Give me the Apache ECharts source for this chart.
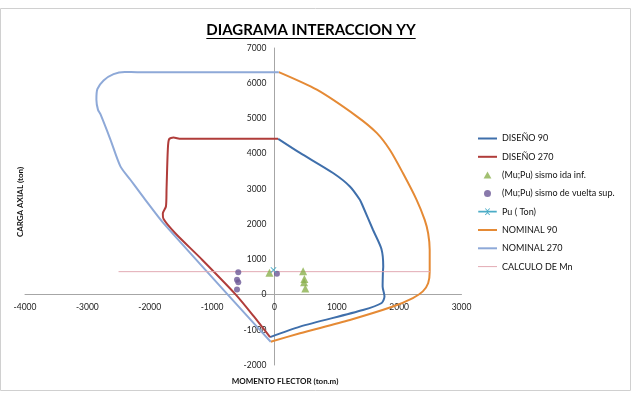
<!DOCTYPE html>
<html><head><meta charset="utf-8">
<script src="https://cdn.jsdelivr.net/npm/echarts@6/dist/echarts.min.js"></script>
<style>html,body{margin:0;padding:0;background:#fff}#c{width:636px;height:408px}</style>
</head><body><div id="c"></div>
<script>
// ---- data ----
const xTicks = [-4000,-3000,-2000,-1000,0,1000,2000,3000];
const yTicks = [-2000,-1000,0,1000,2000,3000,4000,5000,6000,7000];
const diseno90 = [[60,4420],[410,4020],[940,3450],[1210,3070],[1370,2690],[1420,2500],[1580,1840],[1715,1300],[1745,800],[1740,650],[1735,230],[1765,-50],[1720,-240],[1420,-440],[410,-910],[-70,-1210]];
const diseno270 = [[60,4420],[-1500,4420],[-1620,4460],[-1690,4410],[-1710,4100],[-1730,3000],[-1740,2500],[-1790,2300],[-1780,2150],[-1590,1740],[-1160,990],[-620,0],[-330,-620],[-70,-1210]];
const sismoIda = [[-80,620],[460,660],[480,440],[475,350],[495,170]];
const sismoVuelta = [[-580,630],[-600,420],[-580,350],[-600,140],[40,590]];
const puTon = [[-15,700]];
const nominal90 = [[70,6315],[680,5815],[1320,5060],[1640,4590],[1850,4110],[2060,3450],[2280,2690],[2410,2120],[2465,1740],[2490,1270],[2490,650],[2465,320],[2380,90],[2220,-100],[1900,-340],[1210,-720],[410,-1100],[-60,-1340]];
const nominal270 = [[70,6315],[-2200,6315],[-2400,6320],[-2580,6260],[-2740,6080],[-2840,5830],[-2855,5530],[-2830,5250],[-2790,5120],[-2630,4400],[-2470,3640],[-2310,3260],[-2070,2690],[-1780,2030],[-60,-1340]];
const calculoMn = [[-2500,650],[2500,650]];
const seriesNames = ['DISEÑO 90','DISEÑO 270','(Mu;Pu) sismo ida inf.','(Mu;Pu) sismo de vuelta sup.','Pu ( Ton)','NOMINAL 90','NOMINAL 270','CALCULO DE Mn'];
const titleText = 'DIAGRAMA INTERACCION YY';
const xTitle = 'MOMENTO FLECTOR (ton.m)';
const yTitle = 'CARGA AXIAL (ton)';

// ---- chart ----
const FONT = 'Lato';
const chart = echarts.init(document.getElementById('c'), null, {renderer:'canvas'});
const titleFont = 'bold 15px ' + FONT;
const ctx = document.createElement('canvas').getContext('2d');
ctx.font = titleFont;
const tw = ctx.measureText(titleText).width;
const tcx = 311, tcy = 30;

const G = {left:25, right:174.5, top:48, bottom:43};
const W = 636, H = 408;
const xMin = xTicks[0], xMax = xTicks[xTicks.length-1];
const yMin = yTicks[0], yMax = yTicks[yTicks.length-1];
const xStep = xTicks[1]-xTicks[0], yStep = yTicks[1]-yTicks[0];
// offsets that put each axis at the other's zero (Excel "axis crosses at 0")
const plotW = W - G.left - G.right, plotH = H - G.top - G.bottom;
const yAxisOffset = -plotW * (0 - xMin) / (xMax - xMin);
const xAxisOffset = -plotH * (0 - yMin) / (yMax - yMin);

const crossPath = 'path://M0,1L1,0L5,4L9,0L10,1L6,5L10,9L9,10L5,6L1,10L0,9L4,5Z';
const triPath = 'path://M5,0L10,9L0,9Z';
const lineIcon = 'path://M0,0L19,0L19,2L0,2Z';
const thinLineIcon = 'path://M0,0L19,0L19,1L0,1Z';
const puIcon = 'path://M0,2.6L19,2.6L19,4.4L0,4.4Z M6.9,0.5L7.5,-0.1L9.5,1.9L11.5,-0.1L12.1,0.5L10.1,2.5L10.1,4.5L12.1,6.5L11.5,7.1L9.5,5.1L7.5,7.1L6.9,6.5L8.9,4.5L8.9,2.5Z';

function lineSeries(name, data, color) {
  return {name, type:'line', data, symbol:'none', smooth:0.25, color,
    lineStyle:{width:2, color}, z:2};
}

chart.setOption({
  animation:false,
  textStyle:{fontFamily:FONT},
  grid:{left:G.left, right:G.right, top:G.top, bottom:G.bottom, containLabel:false, outerBoundsMode:'none'},
  xAxis:{type:'value', min:xMin, max:xMax, interval:xStep, position:'bottom', offset:xAxisOffset,
    axisLine:{onZero:false, lineStyle:{color:'#a6a6a6', width:1}},
    axisTick:{show:false}, splitLine:{show:false},
    axisLabel:{color:'#222', fontSize:8.5, margin:8, fontFamily:FONT, formatter:v=>String(v)}},
  yAxis:{type:'value', min:yMin, max:yMax, interval:yStep, position:'left', offset:yAxisOffset,
    axisLine:{onZero:false, lineStyle:{color:'#a6a6a6', width:1}},
    axisTick:{show:false}, splitLine:{show:false},
    axisLabel:{color:'#222', fontSize:8.5, margin:8, fontFamily:FONT, formatter:v=>String(v)}},
  legend:{orient:'vertical', left:478, top:134, padding:0, itemWidth:19, itemHeight:7, itemGap:9.3,
    symbolKeepAspect:true,
    textStyle:{fontSize:9, color:'#111', fontFamily:FONT},
    data:[
      {name:seriesNames[0], icon:lineIcon},
      {name:seriesNames[1], icon:lineIcon},
      {name:seriesNames[2], icon:triPath},
      {name:seriesNames[3], icon:'circle'},
      {name:seriesNames[4], icon:puIcon},
      {name:seriesNames[5], icon:lineIcon},
      {name:seriesNames[6], icon:lineIcon},
      {name:seriesNames[7], icon:thinLineIcon}
    ]},
  series:[
    lineSeries(seriesNames[0], diseno90, '#3f6fab'),
    lineSeries(seriesNames[1], diseno270, '#b03c3a'),
    {name:seriesNames[2], type:'scatter', data:sismoIda, symbol:'triangle', symbolSize:8, color:'#8bb04d', z:3},
    {name:seriesNames[3], type:'scatter', data:sismoVuelta, symbol:'circle', symbolSize:6, color:'#6b5796', z:3},
    {name:seriesNames[4], type:'line', data:puTon, symbol:crossPath, symbolSize:6, color:'#4bacc6',
      lineStyle:{width:2, color:'#4bacc6'}, itemStyle:{color:'#4bacc6'}, z:3},
    lineSeries(seriesNames[5], nominal90, '#e58a35'),
    lineSeries(seriesNames[6], nominal270, '#8ea9d8'),
    {name:seriesNames[7], type:'line', data:calculoMn, symbol:'none', color:'#e2aab3',
      lineStyle:{width:1, color:'#e2aab3'}, z:2}
  ],
  graphic:[
    {type:'rect', shape:{x:0.5, y:8.5, width:630, height:382}, style:{fill:null, stroke:'#d0d0d0', lineWidth:1}, silent:true, z:-1},
    {type:'text', x:tcx, y:tcy, style:{text:titleText, font:titleFont, fill:'#000', align:'center', verticalAlign:'middle'}},
    {type:'line', shape:{x1:tcx-tw/2, y1:tcy+8.5, x2:tcx+tw/2, y2:tcy+8.5}, style:{stroke:'#000', lineWidth:1.2}},
    {type:'text', x:285, y:381, style:{text:xTitle, font:'bold 8px '+FONT, fill:'#111', align:'center', verticalAlign:'middle'}},
    {type:'text', x:20, y:202, rotation:Math.PI/2, style:{text:yTitle, font:'bold 8px '+FONT, fill:'#111', align:'center', verticalAlign:'middle'}}
  ]
});
</script></body></html>
